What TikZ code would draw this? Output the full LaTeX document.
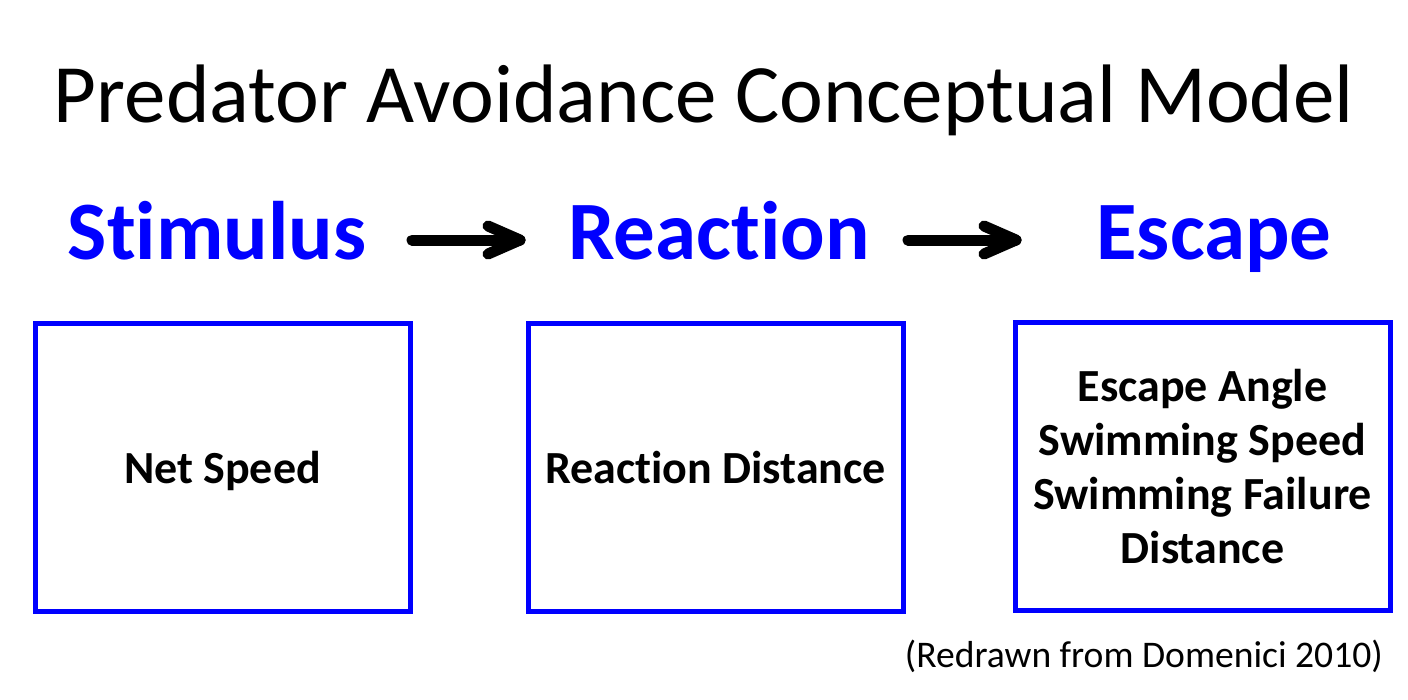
\documentclass[tikz,border=0pt]{standalone}
\usepackage{fontspec}
\setmainfont{Carlito}[Ligatures=NoCommon]
\usetikzlibrary{calc}
\definecolor{pblue}{RGB}{0,0,255}
\begin{document}
\begin{tikzpicture}[x=1pt,y=-1pt,
  box/.style={draw=pblue,line width=5pt,minimum width=375pt,minimum height=288pt,inner sep=0pt,align=center,font=\fontsize{46}{54}\selectfont\bfseries},
  head/.style={text=pblue,font=\fontsize{83}{96}\selectfont\bfseries,inner sep=0pt,anchor=base},
  arr/.style={line width=11pt,line cap=round,line join=round}]
\useasboundingbox (0,0) rectangle (1408,699);
\node[font=\fontsize{83}{96}\selectfont,inner sep=0pt,anchor=base] (title) at (704,122) {Predator Avoidance Conceptual Model};
\node[head] (stim) at (217,259) {Stimulus};
\node[head] (reac) at (719,259) {Reaction};
\node[head] (esc) at (1214,259) {Escape};
\node[box,text depth=0pt] (b1) at (222.5,467) {Net Speed};
\node[box,text depth=0pt] (b2) at (715.5,467) {Reaction Distance};
\node[box] (b3) at (1202.5,466.5) {Escape Angle\\Swimming Speed\\Swimming Failure\\Distance};
\node[font=\fontsize{37.6}{43}\selectfont,inner sep=0pt,anchor=base east] (ref) at (1383,667) {(Redrawn from Domenici 2010)};
\coordinate (a1s) at (412,240);
\coordinate (a1e) at (520,240);
\coordinate (a2s) at (908,240);
\coordinate (a2e) at (1016,240);
\draw[arr] (a1s) -- (a1e);
\draw[arr] ($(a1e)+(-32,-14)$) -- (a1e) -- ($(a1e)+(-32,14)$);
\draw[arr] (a2s) -- (a2e);
\draw[arr] ($(a2e)+(-32,-14)$) -- (a2e) -- ($(a2e)+(-32,14)$);
\end{tikzpicture}
\end{document}
